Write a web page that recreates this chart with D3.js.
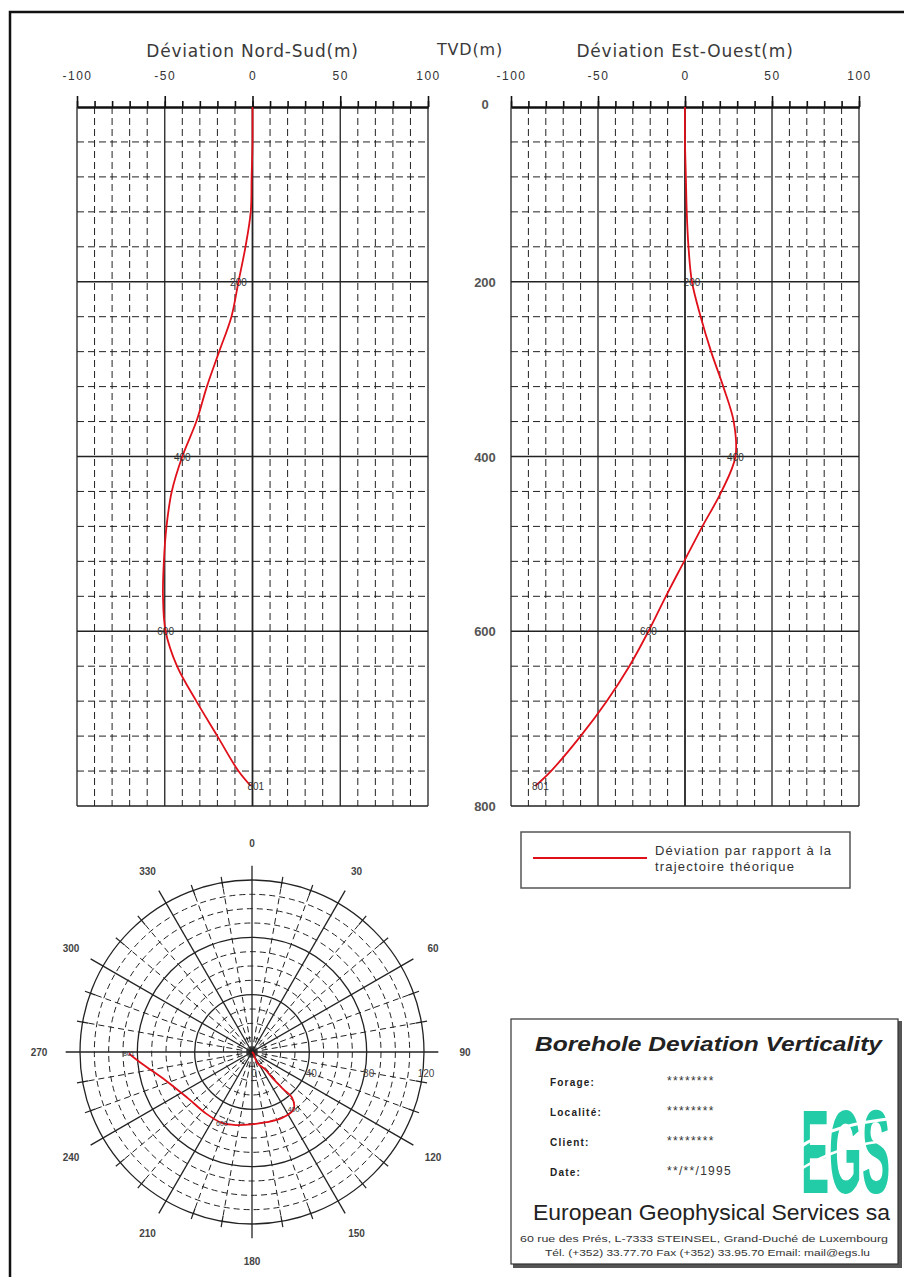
<!DOCTYPE html>
<html>
<head>
<meta charset="utf-8">
<script src="https://cdn.jsdelivr.net/npm/d3@7"></script>
<style>
  body { margin: 0; background: #fff; }
  svg { display: block; font-family: "Liberation Sans", Arial, sans-serif; }
</style>
</head>
<body>
<div id="chart"></div>
<script>
// TVD (m) and deviation readings taken from the well survey plot.
var depths = [0, 40, 80, 120, 160, 200, 240, 280, 320, 360, 400, 440, 480, 520, 560, 600, 640, 680, 720, 760, 777];
var devNS  = [0, 0, -0.5, -1, -4, -8, -12, -19, -26, -32, -40, -46, -49, -50.5, -51, -49.5, -43, -32, -20, -8, -1];
var devEW  = [0, 0, 0.5, 1, 2, 4, 9, 15, 22, 28, 29, 21, 10, -0.5, -11, -21, -32, -45, -60, -77, -86];
// Measured-depth labels written along the trace (index into arrays above).
var markIdx = [5, 10, 15, 20];
var markText = ["200", "400", "600", "801"];

var devTicks = [-100, -50, 0, 50, 100];
var depthTicks = [0, 200, 400, 600, 800];
var azLabels = [0, 30, 60, 90, 120, 150, 180, 210, 240, 270, 300, 330];
var ringLabels = [0, 40, 80, 120];

var W = 904, H = 1277;
var svg = d3.select("#chart").append("svg").attr("width", W).attr("height", H);

// Page frame (only top and left are inside the photo).
svg.append("path").attr("d", "M10,1277 V12 H904")
    .attr("fill", "none").attr("stroke", "#111").attr("stroke-width", 2.5);

var yD = d3.scaleLinear().domain([0, 800]).range([107, 806]);
var xNS = d3.scaleLinear().domain([-100, 100]).range([77, 428]);
var xEW = d3.scaleLinear().domain([-100, 100]).range([511, 859]);

var dash = "7,4";

function depthPanel(x, title, dev) {
    var g = svg.append("g");
    var x0 = x.range()[0], x1 = x.range()[1];
    var y0 = yD.range()[0], y1 = yD.range()[1];

    // dashed minor grid
    var minorX = d3.range(-90, 100, 10).filter(v => v % 50 != 0);
    g.selectAll(".mx").data(minorX).enter().append("line")
        .attr("x1", d => x(d)).attr("x2", d => x(d))
        .attr("y1", y0).attr("y2", y1)
        .attr("stroke", "#222").attr("stroke-width", 1).attr("stroke-dasharray", dash);
    var minorY = d3.range(40, 800, 40).filter(v => v % 200 != 0);
    g.selectAll(".my").data(minorY).enter().append("line")
        .attr("x1", x0).attr("x2", x1)
        .attr("y1", d => yD(d)).attr("y2", d => yD(d))
        .attr("stroke", "#222").attr("stroke-width", 1).attr("stroke-dasharray", dash);

    // solid major grid
    g.selectAll(".Mx").data(devTicks).enter().append("line")
        .attr("x1", d => x(d)).attr("x2", d => x(d))
        .attr("y1", y0).attr("y2", y1)
        .attr("stroke", "#222").attr("stroke-width", d => d == 0 ? 1.8 : 1.3);
    g.selectAll(".My").data(depthTicks.slice(1)).enter().append("line")
        .attr("x1", x0).attr("x2", x1)
        .attr("y1", d => yD(d)).attr("y2", d => yD(d))
        .attr("stroke", "#222").attr("stroke-width", 1.3);

    // top axis: minor then major ticks
    var minorAxis = d3.axisTop(x).tickValues(d3.range(-100, 101, 10)).tickSize(6).tickSizeOuter(0).tickFormat("");
    g.append("g").attr("transform", "translate(0," + y0 + ")").call(minorAxis);
    var majorAxis = d3.axisTop(x).tickValues(devTicks).tickSize(11).tickSizeOuter(0).tickPadding(16).tickFormat(d => String(d));
    var ga = g.append("g").attr("transform", "translate(0," + y0 + ")").call(majorAxis);
    g.selectAll(".domain").attr("stroke", "#111").attr("stroke-width", 2);
    g.selectAll(".tick line").attr("stroke", "#111").attr("stroke-width", 1.6);
    ga.selectAll("text").attr("fill", "#333").attr("font-size", 12)
        .attr("letter-spacing", 1.5).attr("font-family", "Liberation Sans, Arial, sans-serif");

    g.append("text").attr("x", x(0)).attr("y", 57).attr("text-anchor", "middle")
        .attr("font-family", "DejaVu Sans, sans-serif").attr("font-size", 17)
        .attr("letter-spacing", 0.8).attr("fill", "#3a3a3a").text(title);

    // trace
    var pts = depths.map((d, i) => [x(dev[i]), yD(d)]);
    g.append("path").attr("d", d3.line().curve(d3.curveCatmullRom)(pts))
        .attr("fill", "none").attr("stroke", "#e0101a").attr("stroke-width", 1.8);

    g.selectAll(".mk").data(markIdx).enter().append("text")
        .attr("x", d => x(dev[d]) + (d == 20 ? 5 : 0)).attr("y", d => yD(depths[d]) + 4)
        .attr("text-anchor", "middle").attr("font-size", 10).attr("fill", "#333")
        .text((d, i) => markText[i]);
}

depthPanel(xNS, "Déviation Nord-Sud(m)", devNS);
depthPanel(xEW, "Déviation Est-Ouest(m)", devEW);

// TVD labels between the panels
svg.append("text").attr("x", 470).attr("y", 55).attr("text-anchor", "middle")
    .attr("font-family", "DejaVu Sans, sans-serif").attr("font-size", 16)
    .attr("letter-spacing", 0.8).attr("fill", "#3a3a3a").text("TVD(m)");
svg.selectAll(".tvd").data(depthTicks).enter().append("text")
    .attr("x", 485).attr("y", d => yD(d) + (d == 0 ? 2 : 5))
    .attr("text-anchor", "middle").attr("font-size", 13).attr("font-weight", "bold")
    .attr("fill", "#555").text(d => d);

// Legend
var lg = svg.append("g");
lg.append("rect").attr("x", 521).attr("y", 832).attr("width", 329).attr("height", 56)
    .attr("fill", "#fff").attr("stroke", "#555").attr("stroke-width", 1.5);
lg.append("line").attr("x1", 533).attr("x2", 647).attr("y1", 858).attr("y2", 858)
    .attr("stroke", "#e0101a").attr("stroke-width", 2);
lg.append("text").attr("x", 655).attr("y", 855).attr("font-size", 13).attr("fill", "#333")
    .attr("letter-spacing", 1.2).text("Déviation par rapport à la");
lg.append("text").attr("x", 655).attr("y", 871).attr("font-size", 13).attr("fill", "#333")
    .attr("letter-spacing", 1.2).text("trajectoire théorique");

// Polar plan view
var cx = 252, cy = 1052;
var rS = d3.scaleLinear().domain([0, 120]).range([0, 172]);
var pg = svg.append("g").attr("transform", "translate(" + cx + "," + cy + ")");
var rad = Math.PI / 180;

var dashRings = d3.range(10, 120, 10).filter(v => v % 40 != 0);
pg.selectAll(".dr").data(dashRings).enter().append("circle")
    .attr("r", d => rS(d)).attr("fill", "none")
    .attr("stroke", "#222").attr("stroke-width", 1).attr("stroke-dasharray", "6,4");
var dashSpokes = d3.range(0, 360, 10).filter(v => v % 30 != 0);
pg.selectAll(".ds").data(dashSpokes).enter().append("line")
    .attr("x1", 0).attr("y1", 0)
    .attr("x2", d => d3.pointRadial(d * rad, rS(120))[0])
    .attr("y2", d => d3.pointRadial(d * rad, rS(120))[1])
    .attr("stroke", "#222").attr("stroke-width", 1).attr("stroke-dasharray", "6,4");
pg.selectAll(".sr").data([40, 80, 120]).enter().append("circle")
    .attr("r", d => rS(d)).attr("fill", "none")
    .attr("stroke", "#222").attr("stroke-width", 1.3);
pg.selectAll(".ss").data(d3.range(0, 360, 30)).enter().append("line")
    .attr("x1", 0).attr("y1", 0)
    .attr("x2", d => d3.pointRadial(d * rad, rS(130))[0])
    .attr("y2", d => d3.pointRadial(d * rad, rS(130))[1])
    .attr("stroke", "#222").attr("stroke-width", 1.3);
// outer ticks every 10 degrees
pg.selectAll(".ot").data(dashSpokes).enter().append("line")
    .attr("x1", d => d3.pointRadial(d * rad, rS(116))[0])
    .attr("y1", d => d3.pointRadial(d * rad, rS(116))[1])
    .attr("x2", d => d3.pointRadial(d * rad, rS(124))[0])
    .attr("y2", d => d3.pointRadial(d * rad, rS(124))[1])
    .attr("stroke", "#222").attr("stroke-width", 1.2);

pg.selectAll(".az").data(azLabels).enter().append("text")
    .attr("x", d => d3.pointRadial(d * rad, d % 180 == 90 ? 213 : 209)[0])
    .attr("y", d => d3.pointRadial(d * rad, 209)[1] + 4)
    .attr("text-anchor", "middle").attr("font-size", 10).attr("font-weight", "bold")
    .attr("fill", "#444").text(d => d);
pg.selectAll(".rl").data(ringLabels).enter().append("text")
    .attr("x", d => rS(d) + 2).attr("y", 25)
    .attr("text-anchor", "middle").attr("font-size", 10).attr("fill", "#444").text(d => d);

function planPoint(i) {
    var ns = devNS[i], ew = devEW[i];
    var dist = Math.sqrt(ns * ns + ew * ew);
    return d3.pointRadial(Math.atan2(ew, ns), rS(dist));
}
var planPts = depths.map((d, i) => planPoint(i));
pg.append("path").attr("d", d3.line().curve(d3.curveCatmullRom)(planPts))
    .attr("fill", "none").attr("stroke", "#e0101a").attr("stroke-width", 1.8);
pg.selectAll(".pm").data(markIdx.slice(1)).enter().append("text")
    .attr("x", d => planPoint(d)[0]).attr("y", d => planPoint(d)[1] + 3)
    .attr("text-anchor", "middle").attr("font-size", 7).attr("fill", "#333")
    .text((d, i) => markText[i + 1]);

// Title block
var tb = svg.append("g");
tb.append("rect").attr("x", 513).attr("y", 1021).attr("width", 389).attr("height", 247).attr("fill", "#555");
tb.append("rect").attr("x", 511).attr("y", 1019).attr("width", 387).attr("height", 245)
    .attr("fill", "#fff").attr("stroke", "#333").attr("stroke-width", 1.2);
tb.append("text").attr("x", 535).attr("y", 1051).attr("font-size", 21)
    .attr("font-weight", "bold").attr("font-style", "italic").attr("fill", "#222")
    .attr("textLength", 347).attr("lengthAdjust", "spacingAndGlyphs")
    .text("Borehole Deviation Verticality");

var fieldNames = ["Forage:", "Localité:", "Client:", "Date:"];
var fieldValues = ["********", "********", "********", "**/**/1995"];
tb.selectAll(".fn").data(fieldNames).enter().append("text")
    .attr("x", 550).attr("y", (d, i) => 1086 + i * 30)
    .attr("font-size", 10).attr("font-weight", "bold").attr("letter-spacing", 1.2)
    .attr("fill", "#222").text(d => d);
tb.selectAll(".fv").data(fieldValues).enter().append("text")
    .attr("x", 667).attr("y", (d, i) => 1085 + i * 30)
    .attr("font-size", 12).attr("letter-spacing", 1.3)
    .attr("fill", "#333").text(d => d);

// EGS logo: tall condensed letters, squeezed horizontally with a transform
var logo = tb.append("g").attr("transform", "translate(801,1193)");
var logoText = logo.append("text").attr("x", 0).attr("y", 0).attr("font-size", 118)
    .attr("font-weight", "bold").attr("fill", "#22cca6").text("EGS");
var natural = logoText.node().getComputedTextLength() || 236;
logoText.attr("transform", "scale(" + (89 / natural) + ",1)");
logo.append("path").attr("d", "M-5,-43 C24,-65 59,-71 95,-75")
    .attr("fill", "none").attr("stroke", "#fff").attr("stroke-width", 3);
logo.append("path").attr("d", "M-5,-21 C29,-43 61,-51 95,-53")
    .attr("fill", "none").attr("stroke", "#fff").attr("stroke-width", 2.5);

tb.append("text").attr("x", 533).attr("y", 1220).attr("font-size", 22).attr("fill", "#222")
    .attr("textLength", 357).attr("lengthAdjust", "spacingAndGlyphs")
    .text("European Geophysical Services sa");
tb.append("text").attr("x", 520).attr("y", 1242).attr("font-size", 9).attr("fill", "#333")
    .attr("textLength", 368).attr("lengthAdjust", "spacingAndGlyphs")
    .text("60 rue des Prés, L-7333 STEINSEL, Grand-Duché de Luxembourg");
tb.append("text").attr("x", 545).attr("y", 1256).attr("font-size", 9).attr("fill", "#333")
    .attr("textLength", 325).attr("lengthAdjust", "spacingAndGlyphs")
    .text("Tél. (+352) 33.77.70  Fax (+352) 33.95.70  Email: mail@egs.lu");
</script>
</body>
</html>
